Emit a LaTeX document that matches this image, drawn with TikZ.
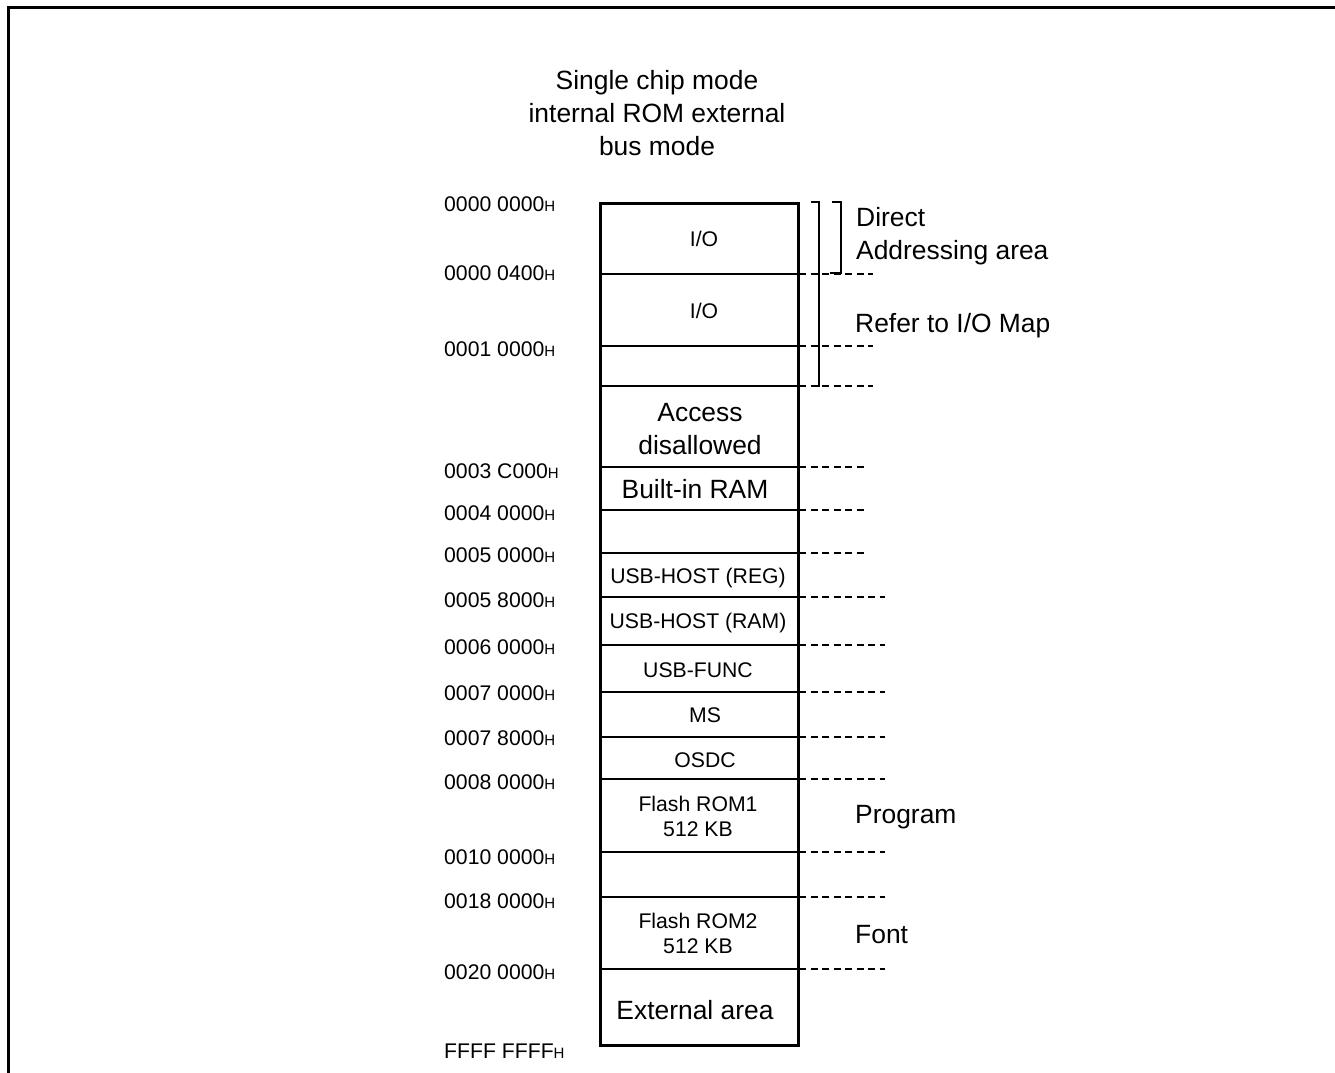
\documentclass[tikz,border=0pt]{standalone}
\usepackage{fontspec}
\setmainfont{Liberation Sans}
\newcommand{\bigf}{\fontsize{26.4}{33}\selectfont}
\newcommand{\smf}{\fontsize{21.2}{25}\selectfont}
\newcommand{\hx}{{\fontsize{15}{15}\selectfont H}}
\begin{document}
\begin{tikzpicture}[x=1pt,y=-1pt,
  lbl/.style={inner sep=0pt,font=\smf},
  biglbl/.style={inner sep=0pt,font=\bigf,align=center},
  addr/.style={inner sep=0pt,anchor=west,font=\smf},
  divline/.style={line width=2pt},
  dashline/.style={line width=1.3pt,dash pattern=on 7pt off 4.5pt},
  brk/.style={line width=1.4pt}]
\useasboundingbox (0,0) rectangle (1335,1072);
% frame (cut by page)
\draw[line width=3pt] (8,1080) -- (8,7) -- (1340,7);
% title
\node[biglbl,align=center] (title) at (657,113) {Single chip mode\\internal ROM external\\bus mode};
% memory box
\node[draw,line width=3pt,minimum width=198pt,minimum height=842pt,inner sep=0pt,anchor=north west] (mem) at (599,202) {};
\foreach \y in {274,346,386,467,510,553,597,645,692,737,779,852,897,969}
  \draw[divline] (599,\y) -- (797,\y);
% dashed extensions
\foreach \y in {274,346,386}
  \draw[dashline] (799,\y) -- (873,\y);
\foreach \y in {467,510,553}
  \draw[dashline] (799,\y) -- (867,\y);
\foreach \y in {597,645,692,737,779,852,897,969}
  \draw[dashline] (799,\y) -- (885,\y);
% brackets
\coordinate (b1t) at (841,202); \coordinate (b1b) at (841,273);
\draw[brk] ([xshift=-9pt]b1t) -- (b1t) -- (b1b) -- ([xshift=-11pt]b1b);
\coordinate (b2t) at (819,202); \coordinate (b2b) at (819,386);
\draw[brk] ([xshift=-8pt]b2t) -- (b2t) -- (b2b) -- ([xshift=-8pt]b2b);
% region labels
\node[lbl] (io1) at (704,239) {I/O};
\node[lbl] (io2) at (704,311) {I/O};
\node[biglbl] (acc) at (700,429) {Access\\disallowed};
\node[biglbl] (ram) at (695,489) {Built-in RAM};
\node[lbl] (usbreg) at (698,578) {USB-HOST (REG)};
\node[lbl] (usbram) at (698,623) {USB-HOST (RAM)};
\node[lbl] (usbf) at (698,670) {USB-FUNC};
\node[lbl] (ms) at (705,715) {MS};
\node[lbl] (osdc) at (705,760) {OSDC};
\node[lbl,align=center] (fr1) at (698,816) {Flash ROM1\\512 KB};
\node[lbl,align=center] (fr2) at (698,933) {Flash ROM2\\512 KB};
\node[biglbl] (ext) at (695,1010) {External area};
% right labels
\node[biglbl,anchor=west,align=left] (direct) at (856,236) {Direct\\Addressing area};
\node[biglbl,anchor=west] (refer) at (855,326) {Refer to I/O Map};
\node[biglbl,anchor=west] (prog) at (855,817) {Program};
\node[biglbl,anchor=west] (font) at (855,935) {Font};
% addresses
\foreach \t/\y [count=\i] in {0000 0000/204,0000 0400/273,0001 0000/349,0003 C000/471,0004 0000/513,0005 0000/555,0005 8000/600,0006 0000/647,0007 0000/693,0007 8000/738,0008 0000/782,0010 0000/857,0018 0000/901,0020 0000/972,FFFF FFFF/1051}
  \node[addr] (a\i) at (444,\y) {\t\hx};
\end{tikzpicture}
\end{document}
